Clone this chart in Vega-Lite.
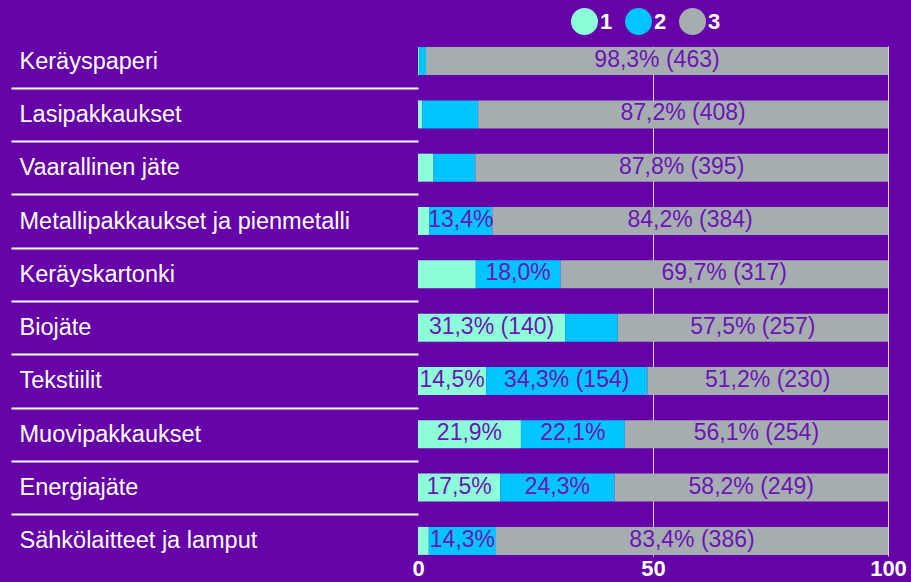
{
  "$schema": "https://vega.github.io/schema/vega-lite/v6.json",
  "width": 470,
  "height": 510,
  "autosize": "none",
  "padding": {"left": 418, "top": 46, "right": 23, "bottom": 26},
  "background": "#6502A8",
  "data": {
    "values": [
      {"cat": "Keräyspaperi", "grp": "1", "pct": 0.2, "label": ""},
      {"cat": "Keräyspaperi", "grp": "2", "pct": 1.5, "label": ""},
      {"cat": "Keräyspaperi", "grp": "3", "pct": 98.3, "label": "98,3% (463)"},
      {"cat": "Lasipakkaukset", "grp": "1", "pct": 0.9, "label": ""},
      {"cat": "Lasipakkaukset", "grp": "2", "pct": 11.9, "label": ""},
      {"cat": "Lasipakkaukset", "grp": "3", "pct": 87.2, "label": "87,2% (408)"},
      {"cat": "Vaarallinen jäte", "grp": "1", "pct": 3.3, "label": ""},
      {"cat": "Vaarallinen jäte", "grp": "2", "pct": 8.9, "label": ""},
      {"cat": "Vaarallinen jäte", "grp": "3", "pct": 87.8, "label": "87,8% (395)"},
      {"cat": "Metallipakkaukset ja pienmetalli", "grp": "1", "pct": 2.4, "label": ""},
      {"cat": "Metallipakkaukset ja pienmetalli", "grp": "2", "pct": 13.4, "label": "13,4%"},
      {"cat": "Metallipakkaukset ja pienmetalli", "grp": "3", "pct": 84.2, "label": "84,2% (384)"},
      {"cat": "Keräyskartonki", "grp": "1", "pct": 12.3, "label": ""},
      {"cat": "Keräyskartonki", "grp": "2", "pct": 18.0, "label": "18,0%"},
      {"cat": "Keräyskartonki", "grp": "3", "pct": 69.7, "label": "69,7% (317)"},
      {"cat": "Biojäte", "grp": "1", "pct": 31.3, "label": "31,3% (140)"},
      {"cat": "Biojäte", "grp": "2", "pct": 11.2, "label": ""},
      {"cat": "Biojäte", "grp": "3", "pct": 57.5, "label": "57,5% (257)"},
      {"cat": "Tekstiilit", "grp": "1", "pct": 14.5, "label": "14,5%"},
      {"cat": "Tekstiilit", "grp": "2", "pct": 34.3, "label": "34,3% (154)"},
      {"cat": "Tekstiilit", "grp": "3", "pct": 51.2, "label": "51,2% (230)"},
      {"cat": "Muovipakkaukset", "grp": "1", "pct": 21.9, "label": "21,9%"},
      {"cat": "Muovipakkaukset", "grp": "2", "pct": 22.1, "label": "22,1%"},
      {"cat": "Muovipakkaukset", "grp": "3", "pct": 56.0, "label": "56,1% (254)"},
      {"cat": "Energiajäte", "grp": "1", "pct": 17.5, "label": "17,5%"},
      {"cat": "Energiajäte", "grp": "2", "pct": 24.3, "label": "24,3%"},
      {"cat": "Energiajäte", "grp": "3", "pct": 58.2, "label": "58,2% (249)"},
      {"cat": "Sähkölaitteet ja lamput", "grp": "1", "pct": 2.3, "label": ""},
      {"cat": "Sähkölaitteet ja lamput", "grp": "2", "pct": 14.3, "label": "14,3%"},
      {"cat": "Sähkölaitteet ja lamput", "grp": "3", "pct": 83.4, "label": "83,4% (386)"}
    ]
  },
  "transform": [
    {"stack": "pct", "groupby": ["cat"], "sort": [{"field": "grp", "order": "ascending"}], "as": ["s0", "s1"]},
    {"calculate": "(datum.s0 + datum.s1) / 2", "as": "mid"}
  ],
  "encoding": {
    "y": {
      "field": "cat",
      "type": "nominal",
      "sort": null,
      "title": null,
      "scale": {"paddingInner": 0.475, "paddingOuter": 0.02},
      "axis": {
        "domain": false,
        "ticks": true,
        "tickSize": 407,
        "tickWidth": 2,
        "tickColor": "#ffffff",
        "tickOpacity": {"condition": {"test": "datum.value === 'Sähkölaitteet ja lamput'", "value": 0}, "value": 1},
        "tickOffset": 26.66,
        "labelOffset": -26.66,
        "labelAlign": "left",
        "labelBaseline": "middle",
        "labelPadding": -8,
        "labelLimit": 400,
        "labelColor": "#ffffff",
        "labelFont": "Liberation Sans",
        "labelFontSize": 23.5,
        "grid": false
      }
    }
  },
  "layer": [
    {
      "mark": {"type": "bar"},
      "encoding": {
        "x": {
          "field": "s0",
          "type": "quantitative",
          "title": null,
          "scale": {"domain": [0, 100], "nice": false},
          "axis": {
            "values": [0, 50, 100],
            "domain": false,
            "ticks": false,
            "labelFlush": false,
            "labelColor": "#ffffff",
            "labelFont": "Liberation Sans",
            "labelFontWeight": "bold",
            "labelFontSize": 22,
            "labelPadding": 2,
            "grid": true,
            "gridColor": "#d8d8d8",
            "gridWidth": 1,
            "gridOpacity": {"condition": {"test": "datum.value === 0", "value": 0}, "value": 1}
          }
        },
        "x2": {"field": "s1"},
        "color": {
          "field": "grp",
          "type": "nominal",
          "title": null,
          "scale": {"domain": ["1", "2", "3"], "range": ["#8cffd8", "#00c4ff", "#a5adb1"]},
          "legend": {
            "orient": "none",
            "direction": "horizontal",
            "legendX": 153,
            "legendY": -38,
            "symbolType": "circle",
            "symbolSize": 729,
            "symbolStrokeWidth": 0,
            "symbolOpacity": 1,
            "labelColor": "#ffffff",
            "labelFont": "Liberation Sans",
            "labelFontWeight": "bold",
            "labelFontSize": 22,
            "labelOffset": 2,
            "columnPadding": 12
          }
        }
      }
    },
    {
      "transform": [{"filter": "datum.label != ''"}],
      "mark": {"type": "text", "align": "center", "baseline": "middle", "color": "#6c14b4", "font": "Liberation Sans", "fontSize": 23, "dy": -1},
      "encoding": {
        "x": {"field": "mid", "type": "quantitative"},
        "text": {"field": "label", "type": "nominal"}
      }
    }
  ],
  "config": {"view": {"stroke": null}}
}
